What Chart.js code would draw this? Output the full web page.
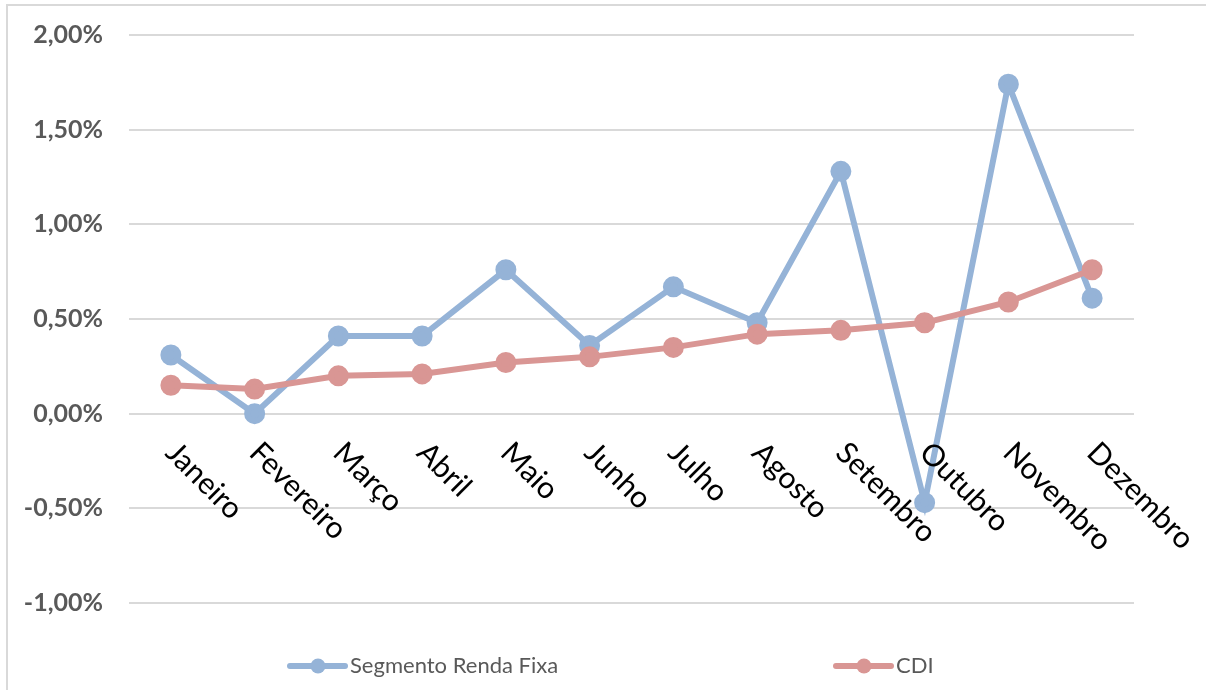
<!DOCTYPE html>
<html>
<head>
<meta charset="utf-8">
<script src="https://cdn.jsdelivr.net/npm/chart.js@4.4.1/dist/chart.umd.min.js"></script>
<style>
  body { margin: 0; background: #fff; }
  #wrap { position: relative; width: 1206px; height: 690px; }
  #moldura { position: absolute; left: 6px; top: 4px; width: 1200px; height: 686px;
             border-top: 2px solid #d9d9d9; border-left: 2px solid #d9d9d9; box-sizing: border-box; }
  canvas { position: absolute; left: 0; top: 0; }
</style>
</head>
<body>
<div id="wrap">
  <div id="moldura"></div>
  <canvas id="grafico" width="1206" height="690"></canvas>
</div>
<script>
// dados do gráfico
const meses = ['Janeiro', 'Fevereiro', 'Março', 'Abril', 'Maio', 'Junho', 'Julho', 'Agosto', 'Setembro', 'Outubro', 'Novembro', 'Dezembro'];
const rendaFixa = [0.31, 0.00, 0.41, 0.41, 0.76, 0.36, 0.67, 0.48, 1.28, -0.47, 1.74, 0.61];
const cdi = [0.15, 0.13, 0.20, 0.21, 0.27, 0.30, 0.35, 0.42, 0.44, 0.48, 0.59, 0.76];
const nomesSeries = ['Segmento Renda Fixa', 'CDI'];
const eixoMin = -1, eixoMax = 2, passo = 0.5;

const AZUL = '#95b3d7';
const VERMELHO = '#d99694';

// rótulos do eixo x inclinados (estilo Excel), a partir da linha do zero
const rotulosX = {
    id: 'rotulosX',
    afterDraw(chart) {
        const ctx = chart.ctx;
        const xs = chart.scales.x;
        const ys = chart.scales.y;
        const y0 = ys.getPixelForValue(0);
        ctx.save();
        ctx.font = '30px Lato';
        ctx.fillStyle = '#000';
        ctx.textAlign = 'left';
        ctx.textBaseline = 'middle';
        chart.data.labels.forEach((lab, i) => {
            const x = xs.getPixelForValue(i);
            ctx.save();
            ctx.translate(x, y0 + 34);
            ctx.rotate(Math.PI / 4);
            ctx.fillText(lab, 0, 0);
            ctx.restore();
        });
        ctx.restore();
    }
};

// legenda embaixo, itens afastados
const legenda = {
    id: 'legenda',
    afterDraw(chart) {
        const ctx = chart.ctx;
        const posicoes = [290, 836];
        const yl = 666;
        ctx.save();
        ctx.font = '22px Lato';
        ctx.textBaseline = 'middle';
        ctx.textAlign = 'left';
        chart.data.datasets.forEach((ds, i) => {
            const x = posicoes[i];
            ctx.strokeStyle = ds.borderColor;
            ctx.lineWidth = 6;
            ctx.lineCap = 'round';
            ctx.beginPath();
            ctx.moveTo(x, yl);
            ctx.lineTo(x + 55, yl);
            ctx.stroke();
            ctx.fillStyle = ds.borderColor;
            ctx.beginPath();
            ctx.arc(x + 28, yl, 7.5, 0, Math.PI * 2);
            ctx.fill();
            ctx.fillStyle = '#595959';
            ctx.fillText(ds.label, x + 60, yl);
        });
        ctx.restore();
    }
};

new Chart(document.getElementById('grafico'), {
    type: 'line',
    data: {
        labels: meses,
        datasets: [{
            label: nomesSeries[0],
            data: rendaFixa,
            borderColor: AZUL,
            backgroundColor: AZUL,
            pointBackgroundColor: AZUL,
            pointBorderColor: AZUL,
            borderWidth: 6,
            pointRadius: 7.5,
            tension: 0,
            order: 2
        }, {
            label: nomesSeries[1],
            data: cdi,
            borderColor: VERMELHO,
            backgroundColor: VERMELHO,
            pointBackgroundColor: VERMELHO,
            pointBorderColor: VERMELHO,
            borderWidth: 6,
            pointRadius: 7.5,
            tension: 0,
            order: 1
        }]
    },
    options: {
        responsive: false,
        animation: false,
        layout: { padding: { left: 0, top: 35, right: 72, bottom: 87 } },
        plugins: {
            legend: { display: false },
            tooltip: { enabled: false }
        },
        scales: {
            x: {
                display: false,
                offset: true
            },
            y: {
                min: eixoMin,
                max: eixoMax,
                afterFit(scale) {
                    scale.width = 129;
                    scale.paddingTop = 0;
                    scale.paddingBottom = 0;
                },
                border: { display: false },
                grid: { color: '#d9d9d9', lineWidth: 2, drawTicks: false },
                ticks: {
                    stepSize: passo,
                    padding: 26,
                    color: '#595959',
                    font: { family: 'Lato', size: 25, weight: 'bold' },
                    callback: v => v.toFixed(2).replace('.', ',') + '%'
                }
            }
        }
    },
    plugins: [rotulosX, legenda]
});
</script>
</body>
</html>
